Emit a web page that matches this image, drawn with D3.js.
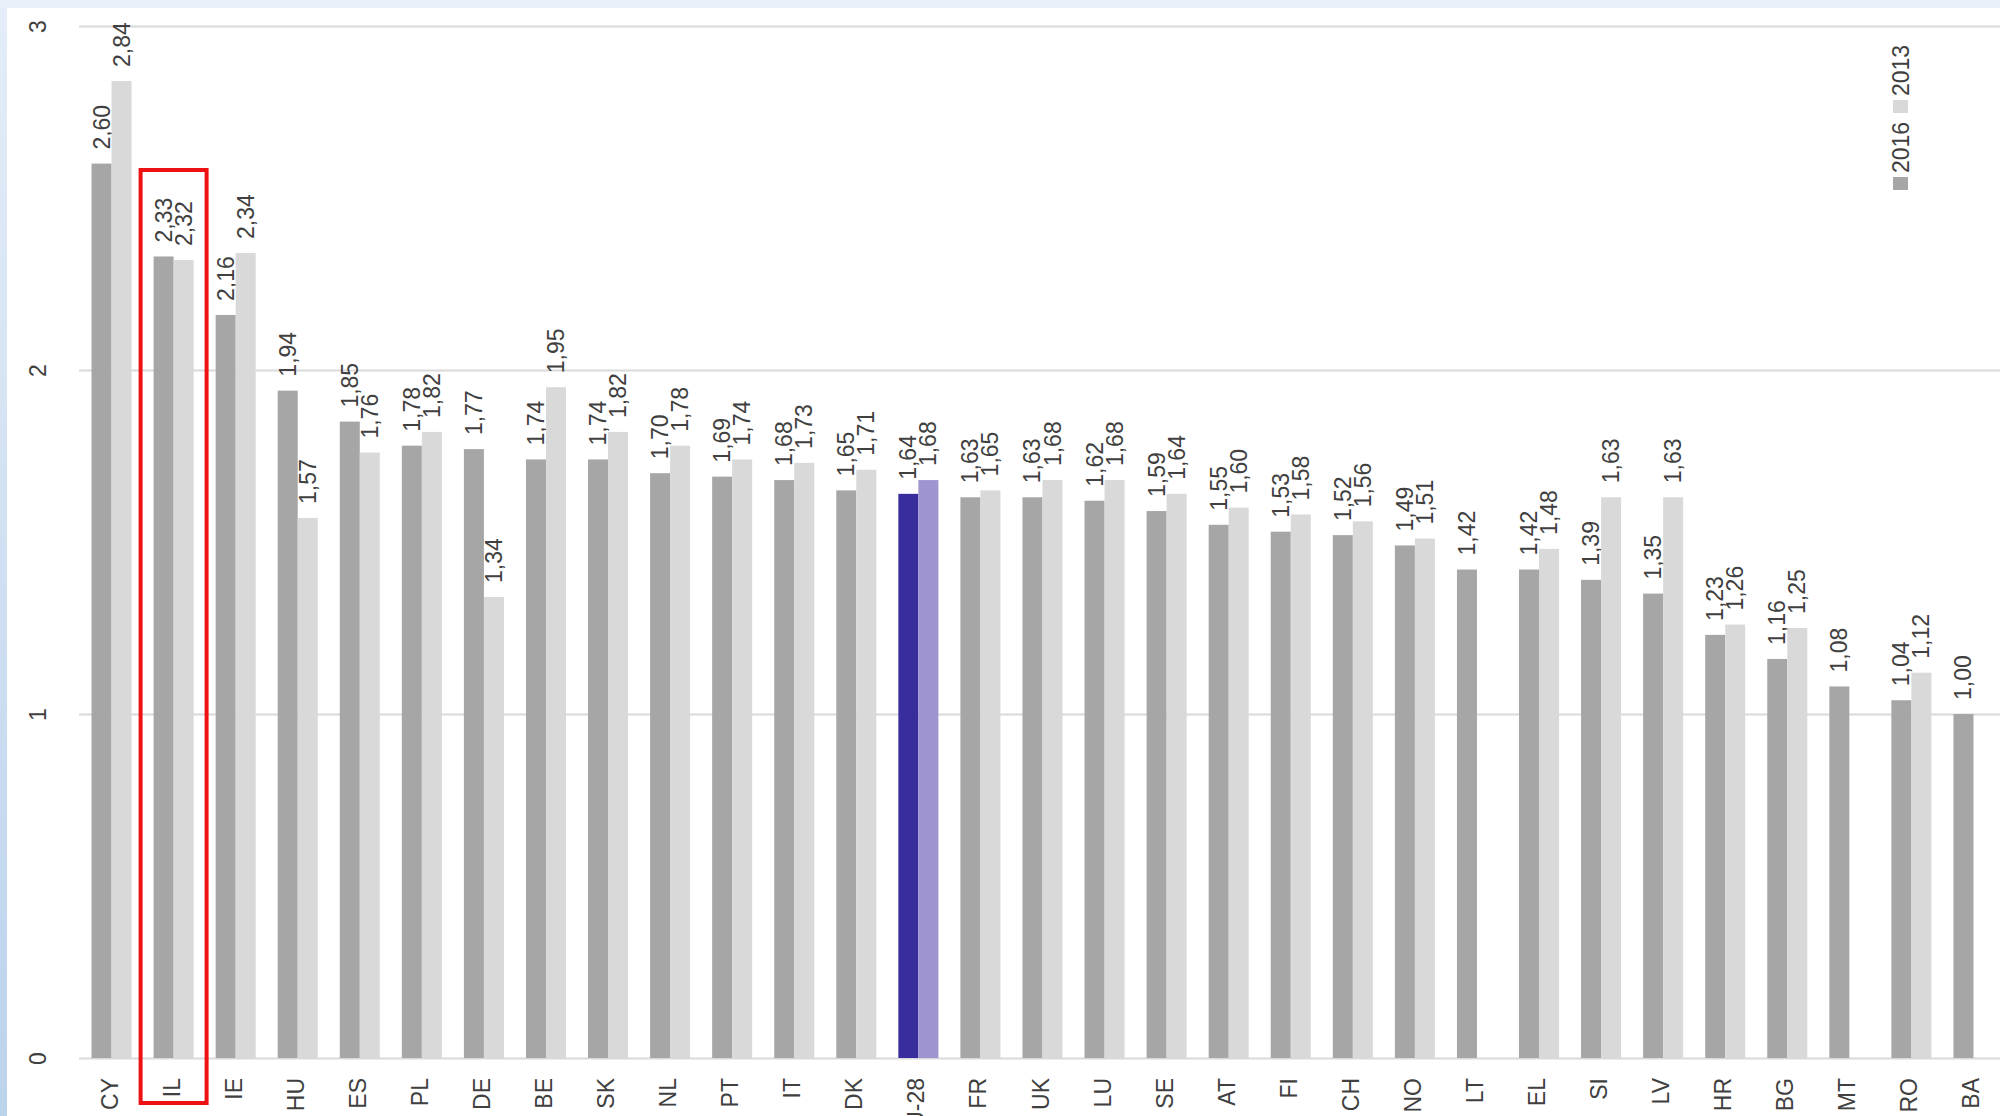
<!DOCTYPE html>
<html>
<head>
<meta charset="utf-8">
<script src="https://cdn.jsdelivr.net/npm/d3@7"></script>
<style>
  html, body { margin: 0; padding: 0; background: #fff; }
  svg { display: block; }
  text { font-family: "Liberation Sans Narrow", "Liberation Sans", Arial, sans-serif; fill: #404040; }
</style>
</head>
<body>
<div id="chart"></div>
<script>
var width  = 2000;
var height = 1116;

// data
var countries = ["CY","IL","IE","HU","ES","PL","DE","BE","SK","NL","PT","IT","DK","EU-28","FR","UK","LU","SE","AT","FI","CH","NO","LT","EL","SI","LV","HR","BG","MT","RO","BA"];
var values2016 = [2.60,2.33,2.16,1.94,1.85,1.78,1.77,1.74,1.74,1.70,1.69,1.68,1.65,1.64,1.63,1.63,1.62,1.59,1.55,1.53,1.52,1.49,1.42,1.42,1.39,1.35,1.23,1.16,1.08,1.04,1.00];
var values2013 = [2.84,2.32,2.34,1.57,1.76,1.82,1.34,1.95,1.82,1.78,1.74,1.73,1.71,1.68,1.65,1.68,1.68,1.64,1.60,1.58,1.56,1.51,null,1.48,1.63,1.63,1.26,1.25,null,1.12,null];
var series = ["2016","2013"];
var yTicks = [0, 1, 2, 3];
var highlight = "EU-28";
var boxed = "IL";

var svg = d3.select("#chart")
    .append("svg")
    .attr("width", width)
    .attr("height", height);

// frame: light blue page edge, white panel
var defs = svg.append("defs");
var grad = defs.append("linearGradient").attr("id", "edge").attr("x1", 0).attr("y1", 0).attr("x2", 0).attr("y2", 1);
grad.append("stop").attr("offset", "0%").attr("stop-color", "#e4edf8");
grad.append("stop").attr("offset", "100%").attr("stop-color", "#bcd3ec");
svg.append("rect").attr("width", width).attr("height", height).attr("fill", "url(#edge)");
svg.append("rect").attr("x", 0).attr("y", 0).attr("width", width).attr("height", 8).attr("fill", "#e9f0f9");
svg.append("rect").attr("x", 7).attr("y", 8).attr("width", width - 7).attr("height", height - 8).attr("fill", "#fff");

var x0 = d3.scaleBand()
    .domain(countries)
    .range([80.5, 2004.5])
    .paddingInner(0.355)
    .paddingOuter(0.1775);

var x1 = d3.scaleBand()
    .domain(series)
    .range([0, x0.bandwidth()]);

var y = d3.scaleLinear()
    .domain([0, 3])
    .range([1058, 26]);

// gridlines + y labels
var yAxis = d3.axisLeft(y).tickValues(yTicks).tickSize(-(width - 79)).tickFormat(d3.format("d"));
var gy = svg.append("g")
    .attr("transform", "translate(79,0)")
    .call(yAxis);
gy.select(".domain").remove();
gy.selectAll(".tick line").attr("stroke", "#d9d9d9").attr("stroke-width", 2);
gy.selectAll(".tick text")
    .attr("x", null).attr("dy", null)
    .attr("text-anchor", "middle")
    .attr("transform", "translate(-33,0) rotate(-90)")
    .style("font-size", "23px");

var rows = countries.map(function(c, i) {
  return { country: c, vals: [values2016[i], values2013[i]] };
});

function barColor(country, s) {
  if (country === highlight) return s === "2016" ? "#392c9c" : "#9d94d0";
  return s === "2016" ? "#a6a6a6" : "#d9d9d9";
}

var groups = svg.append("g").selectAll("g")
    .data(rows)
    .enter()
    .append("g")
    .attr("transform", function(d) { return "translate(" + x0(d.country) + ",0)"; });

var bars = groups.selectAll("g")
    .data(function(d) {
      return series.map(function(s, j) { return { country: d.country, s: s, v: d.vals[j] }; })
        .filter(function(e) { return e.v !== null; });
    })
    .enter()
    .append("g");

bars.append("rect")
    .attr("x", function(d) { return x1(d.s); })
    .attr("y", function(d) { return y(d.v); })
    .attr("width", x1.bandwidth())
    .attr("height", function(d) { return y(0) - y(d.v); })
    .attr("fill", function(d) { return barColor(d.country, d.s); });

bars.append("text")
    .attr("transform", function(d) {
      return "translate(" + (x1(d.s) + x1.bandwidth() / 2 + 8) + "," + (y(d.v) - 14) + ") rotate(-90)";
    })
    .attr("text-anchor", "start")
    .style("font-size", "23px")
    .text(function(d) { return d3.format(".2f")(d.v).replace(".", ","); });

// x axis labels
var gx = svg.append("g")
    .attr("transform", "translate(0,1058)")
    .call(d3.axisBottom(x0).tickSize(0));
gx.select(".domain").remove();
gx.selectAll(".tick text")
    .attr("y", null).attr("dy", null)
    .attr("text-anchor", "end")
    .attr("transform", "translate(6,20) rotate(-90)")
    .style("font-size", "23px");

// red box around IL
var bx = x0(boxed) + x0.bandwidth() / 2;
svg.append("rect")
    .attr("x", bx - 33)
    .attr("y", 170)
    .attr("width", 66)
    .attr("height", 933)
    .attr("fill", "none")
    .attr("stroke", "#ee1111")
    .attr("stroke-width", 4);

// legend
var legend = svg.append("g").attr("transform", "translate(1901,0)");
var legendItems = [
  { s: "2016", yBox: 177 },
  { s: "2013", yBox: 100 }
];
legendItems.forEach(function(item) {
  legend.append("rect")
      .attr("x", -8).attr("y", item.yBox)
      .attr("width", 15).attr("height", 13)
      .attr("fill", barColor("", item.s));
  legend.append("text")
      .attr("transform", "translate(8," + (item.yBox - 4) + ") rotate(-90)")
      .attr("text-anchor", "start")
      .style("font-size", "23px")
      .text(item.s);
});
</script>
</body>
</html>
